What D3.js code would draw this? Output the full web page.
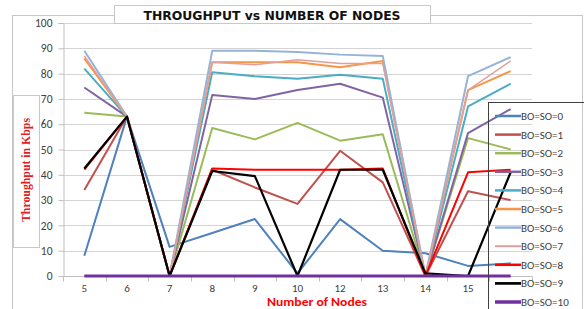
<!DOCTYPE html>
<html>
<head>
<meta charset="utf-8">
<script src="https://cdn.jsdelivr.net/npm/d3@7"></script>
<style>
  body { margin: 0; background: #fff; }
  svg { display: block; }
</style>
</head>
<body>
<div id="container"></div>
<script>
// number of nodes on the x axis
const nodes = ["5", "6", "7", "8", "9", "10", "12", "13", "14", "15", "16"];
const yTicks = [0, 10, 20, 30, 40, 50, 60, 70, 80, 90, 100];

// throughput (Kbps) per BO=SO value
const bo0 = [8, 63, 11.5, 17, 22.5, 1, 22.5, 10, 9, 4, 5];
const bo1 = [34, 63, 0, 42, 35, 28.5, 49.5, 37, 0, 33.5, 30];
const bo2 = [64.5, 63, 0, 58.5, 54, 60.5, 53.5, 56, 0, 54.5, 50];
const bo3 = [74.5, 63, 0, 71.5, 70, 73.5, 76, 70.5, 0, 56.5, 66];
const bo4 = [82, 63, 0, 80.5, 79, 78, 79.5, 78, 0, 67, 76];
const bo5 = [86, 63, 0, 84.5, 84.5, 84.5, 82.5, 85, 0, 73.5, 81];
const bo6 = [89, 63, 0, 89, 89, 88.5, 87.5, 87, 0, 79, 86.5];
const bo7 = [87, 63, 0, 84.5, 83.5, 85.5, 84, 84, 0, 73.5, 85];
const bo8 = [42, 63, 0, 42.5, 42, 42, 42, 42.5, 0, 41, 42];
const bo9 = [42.5, 63, 0, 41.5, 39.5, 0, 42, 42, 1, 0, 41];
const bo10 = [0, 0, 0, 0, 0, 0, 0, 0, 0, 0, 0];

const seriesNames = ["BO=SO=0", "BO=SO=1", "BO=SO=2", "BO=SO=3", "BO=SO=4", "BO=SO=5",
  "BO=SO=6", "BO=SO=7", "BO=SO=8", "BO=SO=9", "BO=SO=10"];
const seriesValues = [bo0, bo1, bo2, bo3, bo4, bo5, bo6, bo7, bo8, bo9, bo10];
const colors = ["#4f81bd", "#c0504d", "#9bbb59", "#8064a2", "#4bacc6", "#f79646",
  "#95b3d7", "#e0a09e", "#ff0000", "#000000", "#7030a0"];
const widths = [2, 2, 2, 2, 2, 2, 2, 1.5, 2, 2.2, 3];

const W = 584, H = 309;
const svg = d3.select("#container").append("svg")
  .attr("width", W).attr("height", H);

const x = d3.scaleBand().domain(nodes).range([63, 532]).padding(0);
const y = d3.scaleLinear().domain([0, 100]).range([276, 23]);
const cx = (d) => x(d) + x.bandwidth() / 2;
const legendX = 488;

// outer chart frame
svg.append("rect")
  .attr("x", 12.5).attr("y", 15.5).attr("width", 570).attr("height", 300)
  .attr("fill", "none").attr("stroke", "#c8c8c8").attr("stroke-width", 1);

// gridlines
svg.append("g")
  .selectAll("line")
  .data(yTicks.filter((t) => t > 0))
  .enter().append("line")
  .attr("x1", 63).attr("x2", 532)
  .attr("y1", (d) => Math.round(y(d)) + 0.5).attr("y2", (d) => Math.round(y(d)) + 0.5)
  .attr("stroke", "#d4d4d4").attr("stroke-width", 1.2);

// y axis
const yAxis = d3.axisLeft(y).tickValues(yTicks).tickSize(5).tickPadding(6);
const gy = svg.append("g").attr("transform", "translate(63.5,0)").call(yAxis);
gy.select(".domain").attr("stroke", "#bfbfbf");
gy.selectAll(".tick line").attr("stroke", "#bfbfbf");
gy.selectAll(".tick text")
  .attr("fill", "#404040").style("font-family", "Carlito, 'Liberation Sans', Arial, sans-serif")
  .style("font-size", "11.5px");

// x axis: ticks between categories
const gx = svg.append("g").attr("transform", "translate(0,276.5)");
gx.append("line").attr("x1", 63).attr("x2", 532).attr("stroke", "#bfbfbf");
gx.selectAll(".tk")
  .data(nodes.concat(["end"]))
  .enter().append("line")
  .attr("x1", (d, i) => Math.round(63 + i * x.bandwidth()) + 0.5)
  .attr("x2", (d, i) => Math.round(63 + i * x.bandwidth()) + 0.5)
  .attr("y1", 0).attr("y2", 5)
  .attr("stroke", "#bfbfbf");
// the last label sits under the legend in the original, so it is not shown
gx.selectAll(".lbl")
  .data(nodes.filter((d) => cx(d) < legendX))
  .enter().append("text")
  .attr("x", (d) => cx(d)).attr("y", 15.5)
  .attr("text-anchor", "middle")
  .attr("fill", "#404040")
  .style("font-family", "Carlito, 'Liberation Sans', Arial, sans-serif")
  .style("font-size", "11px")
  .text((d) => d);

// series lines
const line = d3.line().x((d, i) => cx(nodes[i])).y((d) => y(d));
svg.append("g")
  .selectAll("path")
  .data(seriesValues)
  .enter().append("path")
  .attr("d", (d) => line(d))
  .attr("fill", "none")
  .attr("stroke", (d, i) => colors[i])
  .attr("stroke-width", (d, i) => widths[i])
  .attr("stroke-linejoin", "round");

// title box
svg.append("rect")
  .attr("x", 114.5).attr("y", 5.5).attr("width", 316).attr("height", 18)
  .attr("fill", "#fff").attr("stroke", "#c8c8c8");
svg.append("text")
  .attr("x", 272).attr("y", 20)
  .attr("text-anchor", "middle")
  .attr("textLength", 257).attr("lengthAdjust", "spacingAndGlyphs")
  .style("font-family", "'DejaVu Sans', sans-serif")
  .style("font-weight", "bold").style("font-size", "13px")
  .attr("fill", "#111")
  .text("THROUGHPUT vs NUMBER OF NODES");

// y title box
svg.append("rect")
  .attr("x", 13.5).attr("y", 95.5).attr("width", 26).attr("height", 152)
  .attr("fill", "#fff").attr("stroke", "#c8c8c8");
svg.append("text")
  .attr("transform", "translate(30,170) rotate(-90)")
  .attr("text-anchor", "middle")
  .attr("textLength", 104).attr("lengthAdjust", "spacingAndGlyphs")
  .style("font-family", "'Liberation Serif', 'Times New Roman', serif")
  .style("font-size", "13px").style("font-weight", "bold")
  .attr("fill", "#e02020")
  .text("Throughput in Kbps");

// x title
svg.append("text")
  .attr("x", 317).attr("y", 306)
  .attr("text-anchor", "middle")
  .attr("textLength", 100).attr("lengthAdjust", "spacingAndGlyphs")
  .style("font-family", "Carlito, 'Liberation Sans', Arial, sans-serif")
  .style("font-size", "11.5px").style("font-weight", "bold")
  .attr("fill", "#ff0000")
  .text("Number of Nodes");

// legend
svg.append("rect")
  .attr("x", legendX + 0.5).attr("y", 102.5).attr("width", 110).attr("height", 220)
  .attr("fill", "none").attr("stroke", "#404040");
const lg = svg.append("g")
  .selectAll("g")
  .data(seriesNames)
  .enter().append("g")
  .attr("transform", (d, i) => `translate(0, ${116 + i * 18.6})`);
lg.append("line")
  .attr("x1", 495).attr("x2", 521)
  .attr("stroke", (d, i) => colors[i])
  .attr("stroke-width", (d, i) => widths[i] + 0.5);
lg.append("text")
  .attr("x", 521).attr("y", 4)
  .attr("fill", "#404040")
  .style("font-family", "Carlito, 'Liberation Sans', Arial, sans-serif")
  .style("font-size", "11px")
  .text((d) => d);
</script>
</body>
</html>
